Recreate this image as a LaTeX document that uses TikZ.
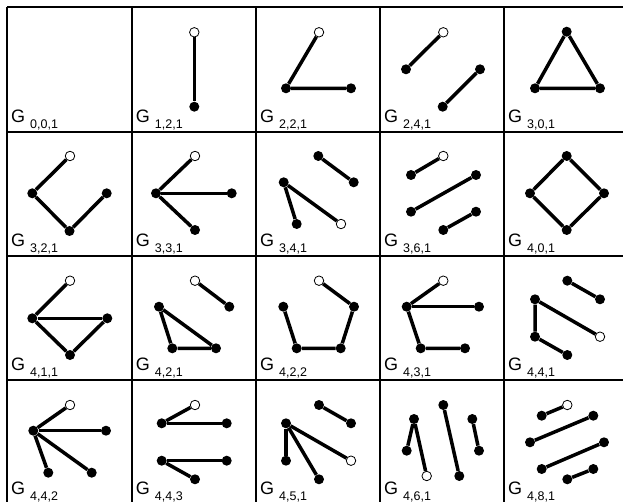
\documentclass[tikz,border=0pt]{standalone}
\usepackage{fontspec}
\setmainfont{Liberation Sans}
\usepackage{tikz}
\usetikzlibrary{positioning}
\newcommand{\gidx}[1]{\raisebox{-6.3pt}{\fontsize{12.5}{14}\selectfont #1}}

\begin{document}
\begin{tikzpicture}[x=1pt, y=-1pt,
    vtx/.style={circle, fill=black, inner sep=0pt, minimum size=10pt},
    root/.style={circle, draw=black, fill=white, line width=0.8pt, inner sep=0pt, minimum size=9.5pt},
    edge/.style={line width=3.5pt},
    gridline/.style={line width=2pt},
    lab/.style={anchor=base west, inner sep=0pt, font=\fontsize{18}{20}\selectfont}]
    \useasboundingbox (0,0) rectangle (623,502);
    \clip (0,0) rectangle (623,502);

    % Table
    \foreach \x in {7,131.7,256,380,504,628}
        \draw[gridline] (\x,7) -- (\x,508);
    \foreach \y in {7,131.7,255.7,380,504}
        \draw[gridline] (7,\y) -- (628,\y);

    % Labels
    \node[lab] (l001) at (11,122.2) {G \gidx{0,0,1}};
    \node[lab] (l121) at (135.7,122.2) {G \gidx{1,2,1}};
    \node[lab] (l221) at (260,122.2) {G \gidx{2,2,1}};
    \node[lab] (l241) at (384,122.2) {G \gidx{2,4,1}};
    \node[lab] (l301) at (508,122.2) {G \gidx{3,0,1}};
    \node[lab] (l321) at (11,246.2) {G \gidx{3,2,1}};
    \node[lab] (l331) at (135.7,246.2) {G \gidx{3,3,1}};
    \node[lab] (l341) at (260,246.2) {G \gidx{3,4,1}};
    \node[lab] (l361) at (384,246.2) {G \gidx{3,6,1}};
    \node[lab] (l401) at (508,246.2) {G \gidx{4,0,1}};
    \node[lab] (l411) at (11,370.5) {G \gidx{4,1,1}};
    \node[lab] (l421) at (135.7,370.5) {G \gidx{4,2,1}};
    \node[lab] (l422) at (260,370.5) {G \gidx{4,2,2}};
    \node[lab] (l431) at (384,370.5) {G \gidx{4,3,1}};
    \node[lab] (l441) at (508,370.5) {G \gidx{4,4,1}};
    \node[lab] (l442) at (11,494.5) {G \gidx{4,4,2}};
    \node[lab] (l443) at (135.7,494.5) {G \gidx{4,4,3}};
    \node[lab] (l451) at (260,494.5) {G \gidx{4,5,1}};
    \node[lab] (l461) at (384,494.5) {G \gidx{4,6,1}};
    \node[lab] (l481) at (508,494.5) {G \gidx{4,8,1}};

    % G 1,2,1
    \node[root] (g121r) at (194.3,32.3) {};
    \node[vtx] (g121a) at (194.3,106.7) {};
    \draw[edge] (g121r) -- (g121a);

    % G 2,2,1
    \node[root] (g221r) at (319,32.3) {};
    \node[vtx] (g221a) at (286,88.3) {};
    \node[vtx] (g221b) at (351,88.3) {};
    \draw[edge] (g221r) -- (g221a) -- (g221b);

    % G 2,4,1
    \node[root] (g241r) at (443.3,32.3) {};
    \node[vtx] (g241a) at (406,69.3) {};
    \node[vtx] (g241b) at (480,69.3) {};
    \node[vtx] (g241c) at (442.7,106.7) {};
    \draw[edge] (g241a) -- (g241r);
    \draw[edge] (g241c) -- (g241b);

    % G 3,0,1
    \node[vtx] (g301a) at (566.7,31.7) {};
    \node[vtx] (g301b) at (535,88.3) {};
    \node[vtx] (g301c) at (600,88.3) {};
    \draw[edge] (g301a) -- (g301b) -- (g301c) -- (g301a);

    % G 3,2,1
    \node[root] (g321r) at (70,156) {};
    \node[vtx] (g321a) at (32.3,193.3) {};
    \node[vtx] (g321b) at (69.5,231) {};
    \node[vtx] (g321c) at (106.7,193.3) {};
    \draw[edge] (g321r) -- (g321a) -- (g321b) -- (g321c);

    % G 3,3,1
    \node[root] (g331r) at (195,156) {};
    \node[vtx] (g331a) at (156,193.3) {};
    \node[vtx] (g331b) at (231.7,193.3) {};
    \node[vtx] (g331c) at (195,230) {};
    \draw[edge] (g331a) -- (g331r);
    \draw[edge] (g331a) -- (g331b);
    \draw[edge] (g331a) -- (g331c);

    % G 3,4,1
    \node[vtx] (g341a) at (318.3,156) {};
    \node[vtx] (g341b) at (353.7,182.3) {};
    \node[vtx] (g341c) at (283.7,182.3) {};
    \node[vtx] (g341d) at (296.7,224) {};
    \node[root] (g341r) at (341,224) {};
    \draw[edge] (g341a) -- (g341b);
    \draw[edge] (g341c) -- (g341d);
    \draw[edge] (g341c) -- (g341r);

    % G 3,6,1
    \node[root] (g361r) at (443.3,156) {};
    \node[vtx] (g361a) at (411,175) {};
    \node[vtx] (g361b) at (476,175) {};
    \node[vtx] (g361c) at (411,211.7) {};
    \node[vtx] (g361d) at (476,211.7) {};
    \node[vtx] (g361e) at (443.3,230) {};
    \draw[edge] (g361a) -- (g361r);
    \draw[edge] (g361c) -- (g361b);
    \draw[edge] (g361e) -- (g361d);

    % G 4,0,1
    \node[vtx] (g401a) at (566.7,156) {};
    \node[vtx] (g401b) at (530,193.3) {};
    \node[vtx] (g401c) at (604,193.3) {};
    \node[vtx] (g401d) at (566.7,230) {};
    \draw[edge] (g401a) -- (g401b) -- (g401d) -- (g401c) -- (g401a);

    % G 4,1,1
    \node[root] (g411r) at (70,280.7) {};
    \node[vtx] (g411a) at (32.3,318.3) {};
    \node[vtx] (g411b) at (107.3,318.3) {};
    \node[vtx] (g411c) at (70,355) {};
    \draw[edge] (g411a) -- (g411r);
    \draw[edge] (g411a) -- (g411b);
    \draw[edge] (g411a) -- (g411c) -- (g411b);

    % G 4,2,1
    \node[root] (g421r) at (195,280.7) {};
    \node[vtx] (g421a) at (229.3,306.7) {};
    \node[vtx] (g421b) at (159,306.7) {};
    \node[vtx] (g421c) at (172.3,348.3) {};
    \node[vtx] (g421d) at (216,348.3) {};
    \draw[edge] (g421r) -- (g421a);
    \draw[edge] (g421b) -- (g421c) -- (g421d) -- (g421b);

    % G 4,2,2
    \node[root] (g422r) at (319,280.7) {};
    \node[vtx] (g422a) at (354,306.7) {};
    \node[vtx] (g422b) at (340.7,348.3) {};
    \node[vtx] (g422c) at (296.7,348.3) {};
    \node[vtx] (g422d) at (283.3,306.7) {};
    \draw[edge] (g422r) -- (g422a) -- (g422b) -- (g422c) -- (g422d);

    % G 4,3,1
    \node[root] (g431r) at (443.3,280.7) {};
    \node[vtx] (g431a) at (406.7,306.7) {};
    \node[vtx] (g431b) at (479,306.7) {};
    \node[vtx] (g431c) at (420.7,348.3) {};
    \node[vtx] (g431d) at (465,348.3) {};
    \draw[edge] (g431a) -- (g431r);
    \draw[edge] (g431a) -- (g431b);
    \draw[edge] (g431a) -- (g431c) -- (g431d);

    % G 4,4,1
    \node[vtx] (g441a) at (567.3,280.7) {};
    \node[vtx] (g441b) at (600,299.3) {};
    \node[vtx] (g441c) at (535,299.3) {};
    \node[root] (g441r) at (600,336.7) {};
    \node[vtx] (g441d) at (535,336.7) {};
    \node[vtx] (g441e) at (567.3,355) {};
    \draw[edge] (g441a) -- (g441b);
    \draw[edge] (g441c) -- (g441r);
    \draw[edge] (g441c) -- (g441d) -- (g441e);

    % G 4,4,2
    \node[root] (g442r) at (70,405) {};
    \node[vtx] (g442a) at (33.3,430.7) {};
    \node[vtx] (g442b) at (106,430.7) {};
    \node[vtx] (g442c) at (48.3,472.7) {};
    \node[vtx] (g442d) at (91.7,472.7) {};
    \draw[edge] (g442a) -- (g442r);
    \draw[edge] (g442a) -- (g442b);
    \draw[edge] (g442a) -- (g442c);
    \draw[edge] (g442a) -- (g442d);

    % G 4,4,3
    \node[root] (g443r) at (195,405) {};
    \node[vtx] (g443a) at (161.7,423.3) {};
    \node[vtx] (g443b) at (226.7,423.3) {};
    \node[vtx] (g443c) at (161.7,460.7) {};
    \node[vtx] (g443d) at (226.7,460.7) {};
    \node[vtx] (g443e) at (195,479.3) {};
    \draw[edge] (g443a) -- (g443r);
    \draw[edge] (g443a) -- (g443b);
    \draw[edge] (g443c) -- (g443d);
    \draw[edge] (g443c) -- (g443e);

    % G 4,5,1
    \node[vtx] (g451a) at (319,405) {};
    \node[vtx] (g451b) at (351,423.3) {};
    \node[vtx] (g451c) at (286,423.3) {};
    \node[vtx] (g451d) at (286,460.7) {};
    \node[root] (g451r) at (351,460.7) {};
    \node[vtx] (g451e) at (319,479.3) {};
    \draw[edge] (g451a) -- (g451b);
    \draw[edge] (g451c) -- (g451d);
    \draw[edge] (g451c) -- (g451r);
    \draw[edge] (g451c) -- (g451e);

    % G 4,6,1
    \node[vtx] (g461a) at (414,419) {};
    \node[vtx] (g461b) at (406.7,450.7) {};
    \node[root] (g461r) at (426.7,476) {};
    \node[vtx] (g461c) at (443.3,405) {};
    \node[vtx] (g461d) at (459.3,476) {};
    \node[vtx] (g461e) at (472.3,419) {};
    \node[vtx] (g461f) at (479,450.7) {};
    \draw[edge] (g461a) -- (g461b);
    \draw[edge] (g461a) -- (g461r);
    \draw[edge] (g461c) -- (g461d);
    \draw[edge] (g461e) -- (g461f);

    % G 4,8,1
    \node[root] (g481r) at (567.3,405) {};
    \node[vtx] (g481a) at (541.7,415.7) {};
    \node[vtx] (g481b) at (593.3,415.7) {};
    \node[vtx] (g481c) at (530,442.3) {};
    \node[vtx] (g481d) at (604,442.3) {};
    \node[vtx] (g481e) at (541.7,469) {};
    \node[vtx] (g481f) at (593.3,469) {};
    \node[vtx] (g481g) at (567.3,479.3) {};
    \draw[edge] (g481a) -- (g481r);
    \draw[edge] (g481c) -- (g481b);
    \draw[edge] (g481e) -- (g481d);
    \draw[edge] (g481g) -- (g481f);
\end{tikzpicture}
\end{document}
